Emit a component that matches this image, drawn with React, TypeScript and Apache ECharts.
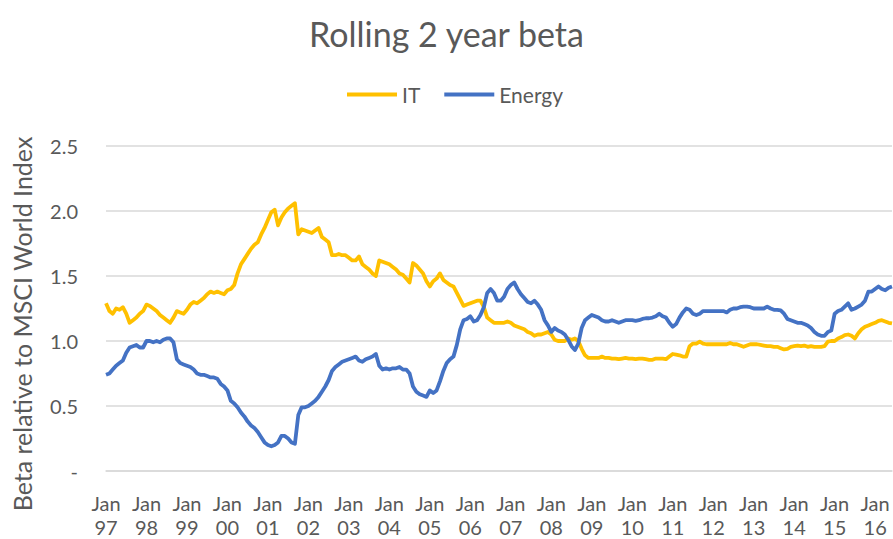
import React, { useEffect, useRef } from "react";
import * as echarts from "echarts";

const TITLE = "Rolling 2 year beta";
const Y_TITLE = "Beta relative to MSCI World Index";
const START_YEAR = 1997;
const Y_TICKS = [0, 0.5, 1.0, 1.5, 2.0, 2.5];

// Monthly values, Jan 1997 .. Jun 2016
const IT = [
  1.29, 1.23, 1.21, 1.25, 1.24, 1.26, 1.21, 1.14, 1.16, 1.18, 1.21, 1.23, 1.28, 1.27, 1.25, 1.23, 1.20, 1.18, 1.16, 1.14,
  1.18, 1.23, 1.22, 1.21, 1.24, 1.28, 1.30, 1.29, 1.31, 1.33, 1.36, 1.38, 1.37, 1.38, 1.37, 1.36, 1.39, 1.40, 1.43,
  1.52, 1.59, 1.63, 1.67, 1.71, 1.74, 1.76, 1.82, 1.87, 1.93, 1.99, 2.01, 1.89, 1.95, 1.99, 2.02, 2.04, 2.06, 1.82, 1.86,
  1.85, 1.84, 1.83, 1.85, 1.87, 1.80, 1.78, 1.76, 1.66, 1.66, 1.67, 1.66, 1.66, 1.64, 1.62, 1.62, 1.65, 1.59, 1.57,
  1.55, 1.52, 1.50, 1.62, 1.61, 1.60, 1.59, 1.57, 1.55, 1.52, 1.51, 1.48, 1.45, 1.60, 1.58, 1.55, 1.52, 1.46, 1.42, 1.46,
  1.48, 1.52, 1.47, 1.45, 1.43, 1.42, 1.37, 1.32, 1.27, 1.28, 1.29, 1.30, 1.31, 1.31, 1.26, 1.18, 1.16, 1.14, 1.14,
  1.14, 1.14, 1.15, 1.14, 1.12, 1.11, 1.10, 1.09, 1.07, 1.06, 1.04, 1.05, 1.05, 1.06, 1.07, 1.05, 1.01, 1.00, 1.00, 1.00,
  1.02, 1.01, 1.02, 1.00, 0.94, 0.89, 0.87, 0.87, 0.87, 0.87, 0.88, 0.87, 0.87, 0.865, 0.865, 0.86, 0.865, 0.87, 0.865,
  0.865, 0.86, 0.865, 0.865, 0.86, 0.855, 0.855, 0.865, 0.865, 0.865, 0.86, 0.88, 0.90, 0.895, 0.89, 0.88, 0.88, 0.96, 0.98,
  0.98, 0.995, 0.98, 0.975, 0.975, 0.975, 0.975, 0.975, 0.975, 0.975, 0.985, 0.975, 0.975, 0.965, 0.955, 0.965, 0.975, 0.975, 0.975,
  0.97, 0.965, 0.96, 0.96, 0.955, 0.955, 0.945, 0.935, 0.94, 0.955, 0.96, 0.965, 0.96, 0.965, 0.955, 0.96, 0.955, 0.955, 0.955, 0.96,
  0.995, 1.00, 1.00, 1.02, 1.03, 1.045, 1.05, 1.04, 1.02, 1.06, 1.09, 1.11, 1.12, 1.13, 1.14, 1.155, 1.16, 1.15, 1.14, 1.135,
];

const ENERGY = [
  0.74, 0.75, 0.78, 0.81, 0.83, 0.85, 0.91, 0.95, 0.96, 0.97, 0.95, 0.95, 1.00, 1.00, 0.99, 1.00, 0.99, 1.01, 1.02, 1.02,
  0.99, 0.86, 0.83, 0.82, 0.81, 0.80, 0.78, 0.75, 0.74, 0.74, 0.73, 0.72, 0.72, 0.71, 0.67, 0.65, 0.62, 0.54, 0.52,
  0.49, 0.45, 0.42, 0.38, 0.35, 0.33, 0.30, 0.26, 0.22, 0.20, 0.19, 0.20, 0.22, 0.27, 0.27, 0.25, 0.22, 0.21, 0.43, 0.49,
  0.49, 0.50, 0.52, 0.54, 0.57, 0.61, 0.65, 0.70, 0.77, 0.80, 0.82, 0.84, 0.85, 0.86, 0.87, 0.88, 0.85, 0.84, 0.86,
  0.87, 0.88, 0.90, 0.81, 0.78, 0.79, 0.78, 0.79, 0.79, 0.80, 0.78, 0.78, 0.75, 0.65, 0.61, 0.59, 0.58, 0.57, 0.62, 0.60,
  0.62, 0.69, 0.77, 0.83, 0.86, 0.88, 0.97, 1.09, 1.16, 1.17, 1.19, 1.15, 1.16, 1.20, 1.26, 1.37, 1.40, 1.37, 1.31,
  1.31, 1.34, 1.40, 1.43, 1.45, 1.40, 1.36, 1.33, 1.30, 1.29, 1.31, 1.28, 1.24, 1.16, 1.12, 1.07, 1.10, 1.08, 1.07, 1.05,
  1.01, 0.96, 0.93, 0.98, 1.10, 1.16, 1.18, 1.20, 1.19, 1.18, 1.16, 1.15, 1.15, 1.16, 1.15, 1.14, 1.15, 1.16, 1.16,
  1.16, 1.155, 1.16, 1.17, 1.175, 1.175, 1.18, 1.19, 1.21, 1.19, 1.18, 1.14, 1.11, 1.13, 1.18, 1.22, 1.25, 1.24, 1.21,
  1.20, 1.21, 1.23, 1.23, 1.23, 1.23, 1.23, 1.23, 1.23, 1.22, 1.24, 1.25, 1.25, 1.26, 1.265, 1.265, 1.26, 1.25, 1.25,
  1.25, 1.25, 1.265, 1.25, 1.24, 1.24, 1.235, 1.21, 1.17, 1.16, 1.15, 1.14, 1.14, 1.13, 1.12, 1.10, 1.07, 1.05, 1.04, 1.04,
  1.07, 1.08, 1.21, 1.23, 1.24, 1.265, 1.29, 1.24, 1.25, 1.265, 1.28, 1.31, 1.38, 1.38, 1.40, 1.42, 1.40, 1.39, 1.41, 1.42,
];

const MONTHS = ["Jan", "Feb", "Mar", "Apr", "May", "Jun", "Jul", "Aug", "Sep", "Oct", "Nov", "Dec"];
const CATEGORIES = IT.map((_, i) => {
  const y = START_YEAR + Math.floor(i / 12);
  return MONTHS[i % 12] + " " + String(y % 100).padStart(2, "0");
});

const FONT = "Lato, 'Noto Sans', sans-serif";
const TEXT = "#595959";
const GRID = "#d9d9d9";

export default function App() {
  const ref = useRef<HTMLDivElement>(null);
  useEffect(() => {
    if (!ref.current) return;
    const chart = echarts.init(ref.current, undefined, { renderer: "svg" });
    chart.setOption({
      animation: false,
      backgroundColor: "#ffffff",
      textStyle: { fontFamily: FONT },
      title: {
        text: TITLE,
        left: "center",
        top: 11,
        textStyle: { fontFamily: FONT, fontSize: 34, fontWeight: "normal", color: TEXT },
      },
      legend: {
        top: 79,
        left: 342,
        icon: "rect",
        itemWidth: 50,
        itemHeight: 4,
        itemGap: 24,
        textStyle: { fontFamily: FONT, fontSize: 21, color: TEXT },
        data: ["IT", "Energy"],
      },
      grid: {
        left: 106,
        right: 1,
        top: 146,
        bottom: 68,
        containLabel: false,
        outerBoundsMode: "none",
      },
      xAxis: {
        type: "category",
        data: CATEGORIES,
        boundaryGap: false,
        axisLine: { show: true, lineStyle: { color: GRID, width: 1.5 } },
        axisTick: { show: false },
        splitLine: { show: false },
        axisLabel: {
          interval: (index: number) => index % 12 === 0,
          formatter: (value: string) => value.replace(" ", "\n"),
          color: TEXT,
          fontSize: 20,
          lineHeight: 24,
          margin: 20,
          fontFamily: FONT,
        },
      },
      yAxis: {
        type: "value",
        min: Y_TICKS[0],
        max: Y_TICKS[Y_TICKS.length - 1],
        interval: 0.5,
        axisLine: { show: false },
        axisTick: { show: false },
        splitLine: { show: true, lineStyle: { color: GRID, width: 1.5 } },
        axisLabel: {
          formatter: (v: number) => (v === 0 ? "-" : v.toFixed(1)),
          color: TEXT,
          fontSize: 20,
          margin: 28,
          fontFamily: FONT,
        },
      },
      graphic: [
        {
          type: "text",
          x: 22,
          y: 324,
          rotation: Math.PI / 2,
          style: {
            text: Y_TITLE,
            fill: TEXT,
            font: `25px ${FONT}`,
            align: "center",
            verticalAlign: "middle",
          },
        },
      ],
      series: [
        {
          name: "IT",
          type: "line",
          data: IT,
          showSymbol: false,
          symbol: "none",
          color: "#FFC000",
          lineStyle: { color: "#FFC000", width: 3.8, join: "round" },
        },
        {
          name: "Energy",
          type: "line",
          data: ENERGY,
          showSymbol: false,
          symbol: "none",
          color: "#4472C4",
          lineStyle: { color: "#4472C4", width: 3.8, join: "round" },
        },
      ],
    });
    return () => chart.dispose();
  }, []);
  return (
    <div
      ref={ref}
      style={{ position: "fixed", left: 0, top: 0, width: 893, height: 539 }}
    />
  );
}
